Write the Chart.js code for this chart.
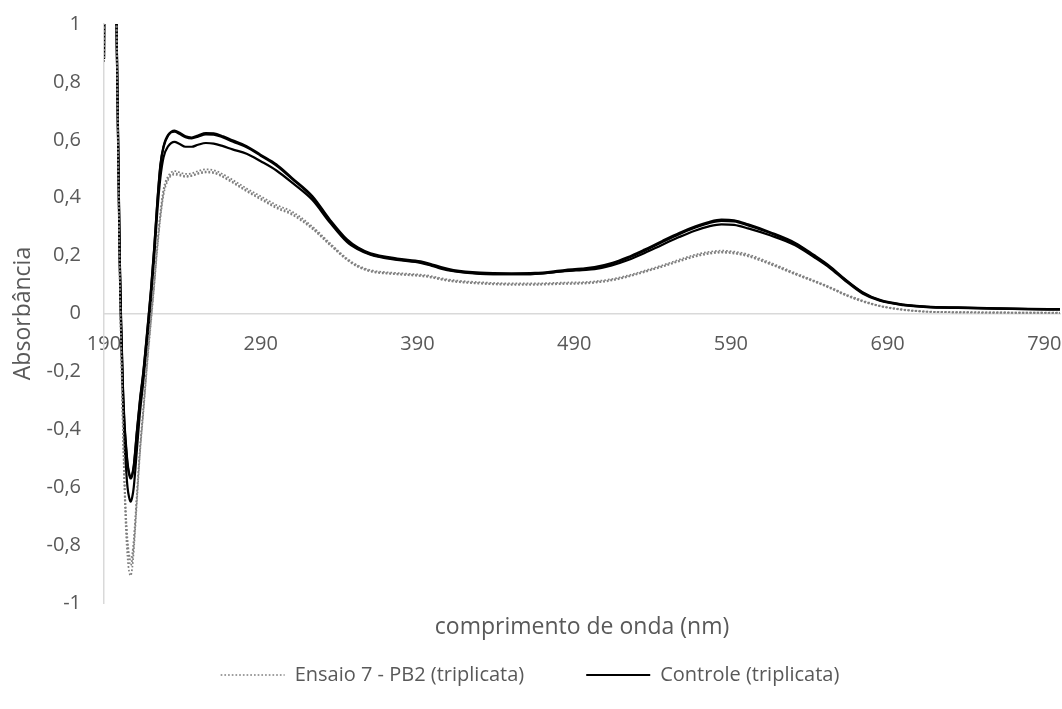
<!DOCTYPE html>
<html lang="pt-BR">
<head>
<meta charset="utf-8">
<title>Espectro de absorbância</title>
<script src="https://cdn.jsdelivr.net/npm/chart.js@4.4.1/dist/chart.umd.min.js"></script>
<style>
  html, body { margin: 0; padding: 0; background: #ffffff; }
  #wrap { width: 1062px; height: 709px; }
</style>
</head>
<body>
<div id="wrap"><canvas id="grafico" width="1062" height="709"></canvas></div>
<script>
// Comprimentos de onda (nm) em que as absorbâncias foram lidas
const comprimentos = [190, 191, 195, 198, 200, 201, 202, 203, 204, 205, 206, 207, 208, 209, 211, 213, 215, 218, 220, 222,
  224, 226, 228, 231, 235, 238, 242, 246, 250, 255, 260, 266, 272, 281, 290, 300, 310, 323, 334, 345,
  352, 360, 377, 392, 398, 405, 413, 430, 450, 465, 484, 495, 503, 514, 524, 535, 546, 557, 567, 576,
  584, 592, 601, 615, 631, 643, 653, 663, 674, 685, 700, 715, 735, 760, 780, 800];

// Ensaio 7 - PB2, três réplicas
const ensaio1 = [0.87, 1.90, 2.40, 1.00, 0.15, -0.12, -0.36, -0.55, -0.69, -0.78, -0.83, -0.85, -0.83, -0.78, -0.62, -0.46, -0.33, -0.13, -0.01, 0.11,
  0.24, 0.35, 0.43, 0.475, 0.492, 0.488, 0.482, 0.484, 0.492, 0.498, 0.495, 0.481, 0.462, 0.432, 0.405, 0.375, 0.352, 0.300, 0.244, 0.190,
  0.166, 0.150, 0.140, 0.134, 0.130, 0.122, 0.115, 0.108, 0.104, 0.104, 0.107, 0.108, 0.111, 0.119, 0.131, 0.148, 0.166, 0.186, 0.203, 0.213,
  0.217, 0.214, 0.204, 0.176, 0.140, 0.114, 0.092, 0.067, 0.045, 0.027, 0.014, 0.007, 0.005, 0.004, 0.003, 0.003];
const ensaio2 = [0.87, 1.90, 2.40, 1.00, 0.14, -0.13, -0.37, -0.57, -0.71, -0.80, -0.85, -0.87, -0.85, -0.80, -0.635, -0.47, -0.34, -0.14, -0.02, 0.10,
  0.23, 0.34, 0.42, 0.468, 0.485, 0.481, 0.475, 0.477, 0.485, 0.490, 0.488, 0.474, 0.455, 0.425, 0.398, 0.368, 0.345, 0.295, 0.240, 0.187,
  0.163, 0.147, 0.137, 0.131, 0.127, 0.119, 0.112, 0.105, 0.101, 0.101, 0.104, 0.105, 0.108, 0.116, 0.128, 0.145, 0.163, 0.182, 0.199, 0.209,
  0.213, 0.210, 0.200, 0.172, 0.137, 0.112, 0.090, 0.065, 0.043, 0.026, 0.013, 0.006, 0.004, 0.003, 0.003, 0.002];
const ensaio3 = [0.87, 1.90, 2.40, 1.00, 0.13, -0.15, -0.40, -0.60, -0.75, -0.84, -0.89, -0.905, -0.88, -0.82, -0.65, -0.48, -0.35, -0.15, -0.03, 0.09,
  0.22, 0.33, 0.41, 0.462, 0.480, 0.477, 0.472, 0.475, 0.482, 0.487, 0.485, 0.471, 0.452, 0.422, 0.394, 0.364, 0.341, 0.292, 0.237, 0.185,
  0.161, 0.145, 0.135, 0.129, 0.125, 0.117, 0.110, 0.103, 0.099, 0.099, 0.102, 0.103, 0.106, 0.114, 0.126, 0.143, 0.161, 0.180, 0.196, 0.206,
  0.210, 0.207, 0.197, 0.170, 0.135, 0.110, 0.088, 0.063, 0.041, 0.025, 0.012, 0.006, 0.004, 0.003, 0.002, 0.002];

// Controle, três réplicas
const controle1 = [0.88, 1.90, 2.40, 1.00, 0.20, -0.05, -0.25, -0.38, -0.46, -0.52, -0.555, -0.57, -0.56, -0.53, -0.41, -0.30, -0.21, -0.04, 0.08, 0.22,
  0.38, 0.51, 0.575, 0.615, 0.632, 0.625, 0.612, 0.608, 0.615, 0.623, 0.622, 0.612, 0.598, 0.578, 0.548, 0.515, 0.468, 0.405, 0.325, 0.256,
  0.228, 0.208, 0.190, 0.180, 0.172, 0.160, 0.150, 0.141, 0.139, 0.140, 0.150, 0.155, 0.160, 0.174, 0.194, 0.221, 0.250, 0.278, 0.300, 0.316,
  0.324, 0.322, 0.308, 0.281, 0.244, 0.202, 0.164, 0.118, 0.074, 0.047, 0.031, 0.024, 0.021, 0.018, 0.016, 0.015];
const controle2 = [0.88, 1.90, 2.40, 1.00, 0.21, -0.04, -0.24, -0.37, -0.45, -0.515, -0.55, -0.565, -0.555, -0.525, -0.405, -0.295, -0.205, -0.035, 0.085, 0.225,
  0.385, 0.515, 0.578, 0.618, 0.628, 0.621, 0.609, 0.605, 0.611, 0.619, 0.618, 0.608, 0.594, 0.574, 0.545, 0.511, 0.465, 0.401, 0.321, 0.252,
  0.225, 0.205, 0.187, 0.177, 0.169, 0.157, 0.147, 0.138, 0.136, 0.137, 0.147, 0.152, 0.157, 0.171, 0.191, 0.217, 0.246, 0.274, 0.296, 0.312,
  0.320, 0.318, 0.304, 0.278, 0.241, 0.199, 0.161, 0.116, 0.072, 0.046, 0.030, 0.023, 0.020, 0.017, 0.015, 0.014];
const controle3 = [0.88, 1.90, 2.40, 1.00, 0.18, -0.08, -0.28, -0.43, -0.53, -0.60, -0.635, -0.65, -0.635, -0.60, -0.47, -0.34, -0.24, -0.07, 0.05, 0.19,
  0.35, 0.47, 0.54, 0.578, 0.593, 0.586, 0.576, 0.576, 0.583, 0.589, 0.587, 0.578, 0.567, 0.552, 0.526, 0.494, 0.452, 0.392, 0.315, 0.247,
  0.222, 0.203, 0.185, 0.175, 0.167, 0.155, 0.146, 0.137, 0.136, 0.137, 0.146, 0.150, 0.153, 0.166, 0.184, 0.209, 0.237, 0.264, 0.286, 0.301,
  0.308, 0.306, 0.294, 0.270, 0.236, 0.195, 0.158, 0.113, 0.069, 0.044, 0.029, 0.022, 0.019, 0.017, 0.015, 0.014];

// Rótulos dos eixos
const ticksX = [190, 290, 390, 490, 590, 690, 790];
const nomeEnsaio = 'Ensaio 7 - PB2 (triplicata)';
const nomeControle = 'Controle (triplicata)';

const CINZA_TEXTO = '#595959';
const CINZA_EIXO = '#d9d9d9';
const FONTE = '"Open Sans", "DejaVu Sans", sans-serif';

Chart.defaults.font.family = FONTE;
Chart.defaults.color = CINZA_TEXTO;

function pontos(valores) {
  return comprimentos.map((x, i) => ({ x: x, y: valores[i] }));
}

function serieEnsaio(valores) {
  return {
    label: nomeEnsaio,
    data: pontos(valores),
    borderColor: '#808080',
    borderWidth: 1.7,
    borderDash: [1.7, 2.0],
    pointRadius: 0,
    fill: false
  };
}

function serieControle(valores) {
  return {
    label: nomeControle,
    data: pontos(valores),
    borderColor: '#000000',
    borderWidth: 2.2,
    borderDash: [],
    pointRadius: 0,
    fill: false
  };
}

function formataDecimal(v) {
  const r = Math.round(v * 10) / 10;
  return String(r === 0 ? 0 : r).replace('.', ',');
}

// Uma entrada de legenda por grupo (primeira réplica de cada um), com o traço da série
function legendaPorGrupo(chart) {
  return [0, 3].map((i) => {
    const ds = chart.data.datasets[i];
    return {
      text: ds.label,
      fillStyle: ds.borderColor,
      strokeStyle: ds.borderColor,
      lineWidth: ds.borderWidth,
      lineDash: ds.borderDash,
      lineCap: 'butt',
      pointStyle: 'line',
      fontColor: CINZA_TEXTO,
      hidden: false,
      datasetIndex: i
    };
  });
}

new Chart(document.getElementById('grafico'), {
  type: 'line',
  data: {
    datasets: [
      serieEnsaio(ensaio1), serieEnsaio(ensaio2), serieEnsaio(ensaio3),
      serieControle(controle1), serieControle(controle2), serieControle(controle3)
    ]
  },
  options: {
    responsive: false,
    devicePixelRatio: 1,
    animation: false,
    layout: { padding: { top: 24, right: 2, bottom: 14, left: 0 } },
    elements: { line: { cubicInterpolationMode: 'monotone' } },
    scales: {
      x: {
        type: 'linear',
        min: 190,
        max: 800,
        position: { y: 0 },
        afterBuildTicks: (s) => { s.ticks = ticksX.map(v => ({ value: v })); },
        afterFit: (s) => { s.paddingLeft = 0; s.paddingRight = 0; },
        ticks: {
          autoSkip: false,
          maxRotation: 0,
          padding: 19,
          color: CINZA_TEXTO,
          font: { size: 20 },
          callback: (v) => String(v)
        },
        grid: { display: false, drawTicks: false },
        border: { display: true, color: CINZA_EIXO, width: 1.5 },
        title: {
          display: true,
          text: 'comprimento de onda (nm)',
          color: CINZA_TEXTO,
          font: { size: 23 },
          padding: { top: 238, bottom: 0 }
        }
      },
      y: {
        type: 'linear',
        min: -1,
        max: 1,
        afterFit: (s) => { s.width = 104; s.paddingTop = 0; s.paddingBottom = 0; },
        ticks: {
          stepSize: 0.2,
          padding: 23,
          color: CINZA_TEXTO,
          font: { size: 20 },
          callback: (v) => formataDecimal(v)
        },
        grid: { display: false, drawTicks: false },
        border: { display: true, color: CINZA_EIXO, width: 1.5 },
        title: {
          display: true,
          text: 'Absorbância',
          color: CINZA_TEXTO,
          font: { size: 23 },
          padding: { top: 10, bottom: 0 }
        }
      }
    },
    plugins: {
      tooltip: { enabled: false },
      legend: {
        position: 'bottom',
        labels: {
          usePointStyle: true,
          pointStyleWidth: 64,
          padding: 62,
          color: CINZA_TEXTO,
          font: { size: 20 },
          generateLabels: legendaPorGrupo
        }
      }
    }
  }
});
</script>
</body>
</html>
